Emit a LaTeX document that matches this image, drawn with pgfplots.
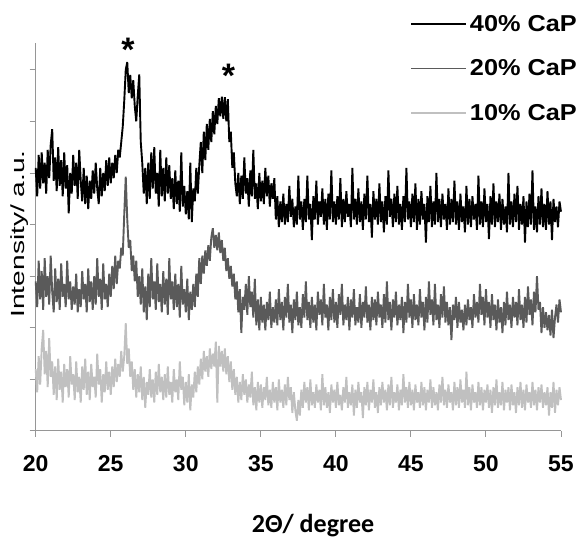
\documentclass[border=0pt]{standalone}
\usepackage{fontspec}
\setmainfont{Liberation Sans}
\newfontfamily\carlito{Carlito}
\usepackage{graphicx}
\usepackage{pgfplots}
\usepackage{pgfplotstable}
\pgfplotsset{compat=1.18}
\definecolor{axgray}{RGB}{150,150,150}
\definecolor{midgray}{RGB}{90,90,90}
\definecolor{lightgray2}{RGB}{192,192,192}

% 2theta, 40% CaP, 20% CaP, 10% CaP (offset traces, a.u.)
\pgfplotstableread{
x a b c
20.0 5.10 2.90 1.20
20.1 4.55 2.40 0.75
20.2 5.35 3.30 1.45
20.3 4.70 2.55 0.90
20.4 5.40 3.10 1.60
20.5 4.80 2.35 1.96
20.6 5.20 3.35 1.10
20.7 4.60 2.60 1.55
20.8 5.45 3.00 0.85
20.9 4.90 2.45 1.80
21.0 5.55 3.40 1.05
21.1 5.85 2.70 1.35
21.2 4.85 2.30 0.70
21.3 5.30 3.15 1.25
21.4 4.65 2.50 0.60
21.5 5.50 2.95 1.40
21.6 4.75 2.35 0.80
21.7 5.25 3.25 1.15
21.8 4.55 2.60 0.55
21.9 5.40 2.85 1.30
22.0 4.70 2.40 0.85
22.1 5.15 3.30 1.20
22.2 4.22 2.55 0.65
22.3 5.00 2.90 1.45
22.4 4.60 2.35 0.90
22.5 5.35 2.80 1.10
22.6 4.75 2.45 0.60
22.7 5.20 3.05 1.35
22.8 4.50 2.30 0.75
22.9 5.45 2.75 1.05
23.0 4.85 2.40 0.55
23.1 4.45 3.10 1.25
23.2 5.10 2.55 0.80
23.3 4.40 2.85 1.40
23.4 4.95 2.30 0.70
23.5 4.30 3.15 1.15
23.6 4.85 2.50 0.60
23.7 4.50 2.90 1.30
23.8 5.05 2.35 0.85
23.9 4.60 3.00 1.05
24.0 5.20 2.45 0.65
24.1 4.70 3.35 1.50
24.2 4.40 2.60 0.90
24.3 5.10 2.95 1.20
24.4 4.55 2.35 0.55
24.5 5.00 3.25 1.10
24.6 4.65 2.55 0.75
24.7 5.25 2.85 1.35
24.8 4.75 2.40 0.80
24.9 5.30 3.05 1.15
25.0 4.80 2.60 0.70
25.1 5.20 3.20 1.25
25.2 4.90 2.75 0.85
25.3 5.35 3.40 1.40
25.4 5.00 2.85 0.95
25.5 5.45 3.30 1.30
25.6 5.30 3.15 1.05
25.7 5.60 3.55 1.55
25.8 5.90 3.40 1.15
25.9 6.40 4.20 1.45
26.0 7.00 4.93 2.09
26.1 7.15 4.10 1.30
26.2 6.55 3.55 1.60
26.3 6.90 3.70 1.05
26.4 6.45 3.10 1.35
26.5 6.80 3.40 0.80
26.6 6.30 2.90 1.20
26.7 6.00 3.30 0.65
26.8 6.50 2.60 1.10
26.9 6.91 3.00 0.75
27.0 5.60 2.45 1.25
27.1 5.20 3.15 0.60
27.2 4.60 2.30 1.05
27.3 5.10 2.80 0.45
27.4 4.40 2.15 0.95
27.5 5.20 3.05 0.70
27.6 4.50 2.40 1.20
27.7 5.40 3.35 0.65
27.8 4.70 2.55 1.00
27.9 5.50 2.90 0.55
28.0 4.60 2.35 1.15
28.1 5.00 3.25 0.70
28.2 4.35 2.50 1.30
28.3 5.45 2.85 0.75
28.4 4.55 2.30 1.05
28.5 5.10 3.10 0.60
28.6 4.45 2.45 1.10
28.7 5.30 2.95 0.65
28.8 4.60 2.25 1.25
28.9 5.15 3.35 0.70
29.0 4.50 2.55 0.95
29.1 4.90 2.90 0.55
29.2 4.30 2.35 1.20
29.3 5.05 3.05 0.75
29.4 4.40 2.40 1.00
29.5 4.85 2.85 0.60
29.6 4.25 2.20 1.35
29.7 5.40 3.20 0.80
29.8 4.35 2.45 1.05
29.9 4.75 2.75 0.50
30.0 4.20 2.30 0.95
30.1 4.65 2.95 0.55
30.2 4.10 2.15 1.10
30.3 5.20 2.70 0.40
30.4 4.05 2.35 0.90
30.5 4.70 2.85 0.65
30.6 4.45 2.40 1.15
30.7 5.10 3.05 0.75
30.8 4.60 2.60 1.25
30.9 5.15 3.35 0.90
31.0 5.60 2.85 1.40
31.1 5.00 3.40 1.00
31.2 5.80 3.05 1.55
31.3 5.25 3.50 1.15
31.4 5.95 3.20 1.45
31.5 5.45 3.60 1.05
31.6 6.05 3.30 1.60
31.7 5.60 3.75 1.20
31.8 6.20 3.93 1.50
31.9 5.75 3.55 1.25
32.0 6.30 3.80 1.73
32.1 5.95 3.50 0.55
32.2 6.45 3.85 1.65
32.3 6.10 3.45 1.25
32.4 6.48 3.70 1.55
32.5 6.05 3.30 1.15
32.6 6.47 3.55 1.60
32.7 6.00 3.10 1.10
32.8 6.43 3.35 1.45
32.9 5.60 2.95 0.95
33.0 5.80 3.20 1.35
33.1 5.10 2.80 0.80
33.2 5.40 3.05 1.20
33.3 4.80 2.55 0.70
33.4 4.55 2.90 1.05
33.5 5.00 2.30 0.55
33.6 4.40 2.75 0.95
33.7 4.95 1.90 0.60
33.8 4.50 2.60 1.10
33.9 5.30 2.35 0.70
34.0 4.60 2.85 1.00
34.1 4.90 2.25 0.55
34.2 4.35 3.00 0.90
34.3 5.05 2.40 0.65
34.4 4.55 2.70 1.15
34.5 5.45 2.20 0.50
34.6 4.50 2.95 0.85
34.7 4.80 2.05 0.40
34.8 4.30 2.55 0.95
34.9 5.00 1.95 0.55
35.0 4.45 2.60 0.90
35.1 4.85 2.10 0.45
35.2 4.40 2.45 0.85
35.3 5.10 1.95 0.60
35.4 4.55 2.50 1.05
35.5 4.95 2.15 0.50
35.6 4.35 2.70 0.80
35.7 4.80 2.00 0.45
35.8 4.50 2.40 0.95
35.9 4.90 2.10 0.55
36.0 4.10 2.55 0.85
36.1 4.55 2.05 0.40
36.2 3.95 2.75 1.00
36.3 4.45 2.15 0.55
36.4 4.05 2.50 0.80
36.5 4.60 1.95 0.45
36.6 4.00 2.60 0.90
36.7 4.40 2.20 0.50
36.8 4.05 2.85 1.05
36.9 4.75 2.10 0.60
37.0 4.15 2.45 0.85
37.1 4.50 1.90 0.35
37.2 3.95 2.55 0.75
37.3 4.35 2.15 0.40
37.4 4.00 2.70 0.20
37.5 4.95 2.05 0.60
37.6 4.10 2.40 0.30
37.7 4.45 2.00 0.80
37.8 3.90 2.65 0.45
37.9 4.50 2.20 0.95
38.0 4.05 2.90 0.55
38.1 4.95 2.15 0.85
38.2 4.10 2.50 0.40
38.3 4.40 2.00 1.00
38.4 3.70 2.60 0.50
38.5 4.55 2.10 0.75
38.6 4.10 2.45 0.45
38.7 4.85 1.95 0.90
38.8 4.00 2.70 0.55
38.9 4.45 2.25 0.80
39.0 4.15 2.55 0.40
39.1 4.70 2.05 1.10
39.2 4.00 2.85 0.50
39.3 4.50 2.20 0.85
39.4 3.90 2.45 0.45
39.5 4.60 1.95 0.75
39.6 4.10 2.60 0.35
39.7 5.05 2.15 0.90
39.8 4.05 2.75 0.55
39.9 4.45 2.10 0.80
40.0 4.00 2.50 0.45
40.1 4.55 2.00 0.95
40.2 4.10 2.65 0.50
40.3 4.90 2.25 0.70
40.4 3.95 2.85 0.40
40.5 4.50 2.05 0.85
40.6 4.05 2.45 0.55
40.7 4.65 2.15 1.05
40.8 4.15 2.60 0.45
40.9 4.40 1.95 0.75
41.0 3.95 2.55 0.50
41.1 5.10 2.20 0.90
41.2 4.10 2.75 0.30
41.3 4.50 2.05 0.80
41.4 4.00 2.40 0.45
41.5 4.70 2.10 0.95
41.6 4.05 2.65 0.55
41.7 4.45 2.00 0.75
41.8 3.90 2.50 0.25
41.9 4.60 2.20 0.85
42.0 4.10 2.80 0.50
42.1 4.95 2.10 0.95
42.2 4.05 2.45 0.40
42.3 4.40 1.95 0.80
42.4 3.75 2.60 0.55
42.5 4.65 2.15 1.00
42.6 4.10 2.55 0.45
42.7 4.50 2.05 0.75
42.8 4.00 2.70 0.35
42.9 4.80 2.20 0.85
43.0 4.05 2.45 0.50
43.1 4.45 2.00 0.95
43.2 3.85 2.65 0.55
43.3 4.55 2.10 0.80
43.4 4.00 2.90 0.40
43.5 5.05 2.15 0.90
43.6 4.15 2.50 0.50
43.7 4.50 1.95 1.05
43.8 3.95 2.55 0.45
43.9 4.60 2.20 0.75
44.0 4.05 2.70 0.55
44.1 4.75 2.05 0.90
44.2 4.00 2.45 0.40
44.3 4.40 2.15 0.80
44.4 3.90 2.60 0.50
44.5 4.55 1.90 1.10
44.6 4.05 2.50 0.55
44.7 5.10 2.10 0.85
44.8 4.10 2.85 0.45
44.9 4.45 2.20 0.95
45.0 3.95 2.55 0.50
45.1 4.60 2.00 0.80
45.2 4.05 2.65 0.40
45.3 4.80 2.15 0.90
45.4 3.90 2.45 0.55
45.5 4.50 2.05 0.75
45.6 4.00 2.75 0.45
45.7 4.65 2.20 0.95
45.8 4.10 2.50 0.50
45.9 4.40 1.95 0.85
46.0 3.65 2.60 0.40
46.1 4.55 2.10 0.80
46.2 4.05 2.90 0.55
46.3 4.75 2.25 1.00
46.4 3.95 2.55 0.45
46.5 4.45 2.05 0.85
46.6 4.00 2.85 0.50
46.7 5.00 2.15 0.75
46.8 4.05 2.45 0.40
46.9 4.50 2.00 0.90
47.0 3.95 2.65 0.55
47.1 4.60 2.20 1.05
47.2 4.10 2.80 0.50
47.3 4.40 2.10 0.80
47.4 3.90 2.50 0.45
47.5 4.70 2.05 0.90
47.6 4.00 2.40 0.55
47.7 4.50 1.76 0.75
47.8 4.05 2.45 0.40
47.9 4.85 2.15 0.95
48.0 4.00 2.60 0.50
48.1 4.45 2.00 0.85
48.2 3.90 2.50 0.45
48.3 4.60 2.10 1.00
48.4 4.05 2.35 0.55
48.5 4.35 1.95 0.80
48.6 3.85 2.45 0.45
48.7 4.75 2.05 1.15
48.8 4.00 2.55 0.50
48.9 4.50 2.15 0.85
49.0 3.95 2.40 0.40
49.1 4.55 2.00 0.90
49.2 4.10 2.65 0.55
49.3 4.40 2.20 0.75
49.4 3.90 2.50 0.45
49.5 4.95 2.10 0.95
49.6 4.00 2.85 0.50
49.7 4.45 2.25 0.85
49.8 3.95 2.60 0.40
49.9 4.70 2.05 0.80
50.0 4.05 2.75 0.55
50.1 4.40 2.20 0.90
50.2 3.72 2.50 0.45
50.3 4.55 2.00 0.80
50.4 4.00 2.65 0.35
50.5 4.80 2.15 0.85
50.6 3.95 2.45 0.50
50.7 4.45 1.95 1.00
50.8 4.05 2.55 0.45
50.9 4.60 2.10 0.75
51.0 3.90 2.40 0.50
51.1 4.50 1.90 0.95
51.2 4.00 2.50 0.40
51.3 4.35 2.05 0.80
51.4 3.85 2.70 0.55
51.5 5.00 2.15 0.85
51.6 4.00 2.45 0.40
51.7 4.45 2.00 0.90
51.8 3.95 2.60 0.50
51.9 4.60 2.20 0.75
52.0 4.05 2.50 0.35
52.1 4.75 2.05 0.85
52.2 3.90 2.75 0.50
52.3 4.40 2.15 0.95
52.4 4.00 2.45 0.45
52.5 4.55 2.00 0.80
52.6 3.65 2.60 0.40
52.7 4.45 2.10 0.90
52.8 3.95 2.80 0.55
52.9 4.60 2.25 0.75
53.0 4.00 2.55 0.45
53.1 5.05 2.05 0.95
53.2 3.90 2.70 0.50
53.3 4.35 2.30 0.80
53.4 3.85 3.00 0.40
53.5 4.55 2.35 0.85
53.6 4.00 2.50 0.55
53.7 4.70 1.90 0.90
53.8 3.95 2.40 0.45
53.9 4.40 2.00 0.75
54.0 3.90 2.30 0.50
54.1 4.65 1.95 0.85
54.2 4.00 2.25 0.30
54.3 4.45 1.85 0.75
54.4 3.70 2.35 0.45
54.5 4.50 1.80 0.95
54.6 4.05 2.20 0.35
54.7 4.35 2.45 0.80
54.8 3.95 2.10 0.50
54.9 4.45 2.55 0.85
55.0 4.25 2.30 0.60
}\xrd

\begin{document}
\begin{tikzpicture}
\begin{axis}[scale only axis, width=525.3pt, height=388pt,
	xmin=20, xmax=55, ymin=0, ymax=7.52,
	axis x line*=bottom, axis y line*=left,
	axis line style={axgray, line width=1pt},
	xtick={20,25,...,55}, ytick={0,1,...,7}, yticklabels={},
	tick align=outside, major tick length=6pt,
	every tick/.style={axgray, line width=1pt},
	/pgf/number format/assume math mode=true,
	xticklabel style={font=\fontsize{23}{27}\selectfont\bfseries, yshift=-15pt},
	ylabel={\scalebox{1.48}[1]{Intensity/ a.u.}},
	ylabel style={font=\fontsize{19}{22}\selectfont, at={(axis description cs:-0.0299,0.508)}, anchor=center},
	xlabel={\carlito\bfseries 2Θ/ degree},
	xlabel style={font=\fontsize{26}{30}\selectfont, at={(axis description cs:0.528,-0.245)}, anchor=center},
	clip=false,
	legend style={at={(axis description cs:1.0324,1.075)}, anchor=north east, draw=none, fill=none,
		font=\fontsize{23}{27}\selectfont\bfseries, row sep=25pt, inner sep=0pt, nodes={inner sep=1pt},
		/tikz/every odd column/.append style={column sep=2pt}},
	legend cell align=left,
	legend image code/.code={\draw[#1, line width=1.8pt] (0pt,0pt) -- (55pt,0pt);},
	]
\addplot[black, line width=1.9pt, line join=bevel] table[x=x, y=a] {\xrd};
\addlegendentry{\scalebox{1.1}[1]{40\% CaP}}
\addplot[midgray, line width=1.9pt, line join=bevel] table[x=x, y=b] {\xrd};
\addlegendentry{\scalebox{1.1}[1]{20\% CaP}}
\addplot[lightgray2, line width=1.9pt, line join=bevel] table[x=x, y=c] {\xrd};
\addlegendentry{\scalebox{1.1}[1]{10\% CaP}}
\node[anchor=north, inner sep=0pt, font=\fontsize{34}{34}\selectfont\bfseries] at (axis cs:26.15,7.61) {*};
\node[anchor=north, inner sep=0pt, font=\fontsize{34}{34}\selectfont\bfseries] at (axis cs:32.85,7.12) {*};
\end{axis}
\pgfresetboundingbox
\path[use as bounding box] ([xshift=-35.7pt, yshift=-109pt]current axis.south west) rectangle ([xshift=18pt, yshift=43pt]current axis.north east);
\end{tikzpicture}
\end{document}
